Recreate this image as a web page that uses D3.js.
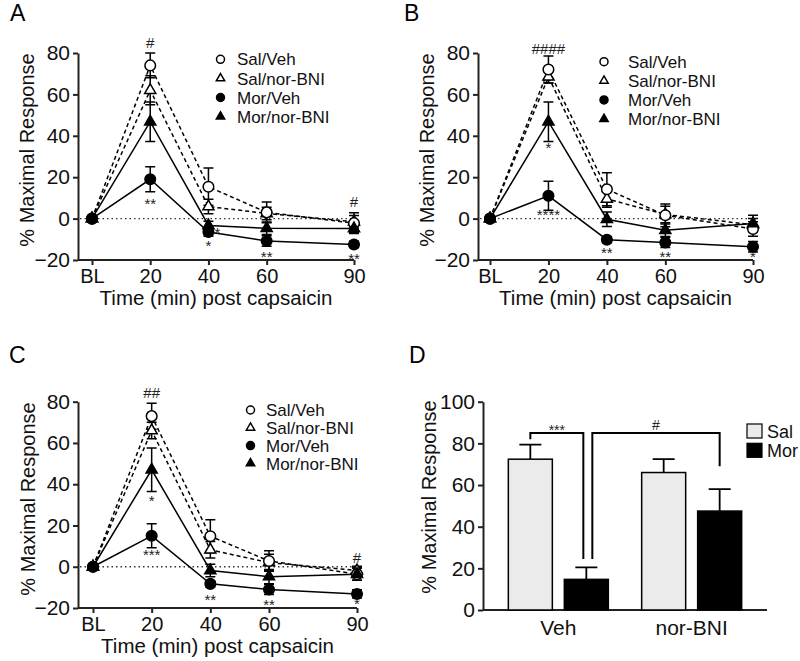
<!DOCTYPE html>
<html>
<head>
<meta charset="utf-8">
<script src="https://cdn.jsdelivr.net/npm/d3@7"></script>
<style>
body { margin: 0; background: #fff; }
svg { font-family: "Liberation Sans", Arial, sans-serif; }
</style>
</head>
<body>
<script>
// ---- data ----
const times = [0, 20, 40, 60, 90]
const timeLabels = ["BL", "20", "40", "60", "90"]
const groups = ["Sal/Veh", "Sal/nor-BNI", "Mor/Veh", "Mor/nor-BNI"]

// panel A
const aSalVeh = [0, 74, 15.4, 3, -2.2]
const aSalVehErr = [0, 6, 9, 5, 5]
const aSalNor = [0, 62, 5.8, 2.5, -1.5]
const aSalNorErr = [0, 7, 3.5, 3, 3]
const aMorVeh = [0, 19, -6.5, -10.8, -12.5]
const aMorVehErr = [0, 6, 2, 2.5, 1.5]
const aMorNor = [0, 46.8, -3.3, -4.7, -4.8]
const aMorNorErr = [0, 9.5, 2, 3, 2]
const aNotes = [[20, 85, "#"], [20, 9, "**"], [40, -4.8, "*", 9], [40, -11.5, "*"],
  [60, -16.4, "**"], [90, 8.1, "#"], [90, -17.4, "**"]]

// panel B
const bSalVeh = [0, 72, 14.2, 1.6, -5]
const bSalVehErr = [0, 6.5, 8, 5.5, 3.5]
const bSalNor = [0, 68.5, 9.5, 2, -3]
const bSalNorErr = [0, 3, 4, 4, 3]
const bMorVeh = [0, 11, -10.2, -11.5, -13.6]
const bMorVehErr = [0, 7, 1.5, 2.5, 2.5]
const bMorNor = [0, 46.8, -0.3, -5.6, -2.4]
const bMorNorErr = [0, 9.5, 3.5, 3, 4]
const bNotes = [[20, 82, "####"], [20, 36, "*"], [20, 3.6, "****"], [40, -14.5, "**"],
  [60, -16.4, "**"], [90, -16.6, "*"]]

// panel C
const cSalVeh = [0, 73, 14.8, 2.8, -3.6]
const cSalVehErr = [0, 6.3, 8, 5, 3]
const cSalNor = [0, 66, 8.2, 2, -1.8]
const cSalNorErr = [0, 4, 4, 4, 2]
const cMorVeh = [0, 15, -8.3, -11, -13.2]
const cMorVehErr = [0, 5.8, 1.5, 2.5, 2]
const cMorNor = [0, 47, -1.8, -4.8, -3.6]
const cMorNorErr = [0, 10.5, 3, 3.5, 3]
const cNotes = [[20, 84.5, "##"], [20, 34, "*"], [20, 7.4, "***"], [40, -14.4, "**"],
  [60, -16.4, "**"], [90, 4.2, "#"], [90, -16.2, "*"]]

// panel D (20 min values)
const dConditions = ["Veh", "nor-BNI"]
const dTreatments = ["Sal", "Mor"]
const dSal = [72.4, 66]
const dSalErr = [7, 6.4]
const dMor = [14.7, 47.5]
const dMorErr = [5.8, 10.5]
// [cond1, treat1, cond2, treat2, leftEnd, rightEnd, top, text, textCenter]
const dBrackets = [["Veh", "Sal", "Veh", "Mor", 82, 24.5, 85, "***", 87.9],
  ["Veh", "Mor", "nor-BNI", "Mor", 24.5, 69, 85, "#", 88.6]]

// ---- drawing ----
var svg = d3.select("body").append("svg").attr("width", 800).attr("height", 661)

var styles = {
  "Sal/Veh": { shape: "circle", fill: "#fff", dash: "4,3" },
  "Sal/nor-BNI": { shape: "triangle", fill: "#fff", dash: "4,3" },
  "Mor/Veh": { shape: "circle", fill: "#000", dash: null },
  "Mor/nor-BNI": { shape: "triangle", fill: "#000", dash: null }
}

var drawMarker = (g, shape, fill, x, y, r) => {
  if (shape == "circle") {
    g.append("circle").attr("cx", x).attr("cy", y).attr("r", r)
      .attr("fill", fill).attr("stroke", "#000").attr("stroke-width", 1.5)
  } else {
    var w = r * 2.1
    g.append("path")
      .attr("d", d3.symbol(d3.symbolTriangle, Math.sqrt(3) / 4 * w * w)())
      .attr("transform", "translate(" + x + "," + y + ")")
      .attr("fill", fill).attr("stroke", "#000").attr("stroke-width", 1.5)
  }
}

var styleAxis = (g, size) => {
  g.selectAll(".domain").attr("stroke", "#222").attr("stroke-width", 2)
  g.selectAll(".tick line").attr("stroke", "#222").attr("stroke-width", 2)
  g.selectAll(".tick text").attr("fill", "#111").style("font-size", size + "px")
}

function drawLinePanel(cfg) {
  var g = svg.append("g")
  var x = d3.scaleLinear().domain([0, 90]).range(cfg.xRange)
  var y = d3.scaleLinear().domain([-20, 80]).range(cfg.yRange)

  g.append("text").attr("x", cfg.label[1]).attr("y", cfg.label[2])
    .style("font-size", "23px").text(cfg.label[0])

  // axes
  var yAxis = g.append("g").attr("transform", "translate(" + cfg.axisX + ",0)")
    .call(d3.axisLeft(y).tickValues([-20, 0, 20, 40, 60, 80]).tickSize(5).tickPadding(3).tickSizeOuter(0))
  styleAxis(yAxis, 21)
  var xAxis = g.append("g").attr("transform", "translate(0," + y(-20) + ")")
    .call(d3.axisBottom(x).tickValues(times).tickFormat((d, i) => timeLabels[i])
      .tickSize(5).tickPadding(4).tickSizeOuter(0))
  xAxis.select(".domain").attr("d", "M" + cfg.axisX + ",0H" + x(90))
  styleAxis(xAxis, 20)

  g.append("text").attr("x", (cfg.axisX + x(90)) / 2).attr("y", y(-20) + 45)
    .attr("text-anchor", "middle").style("font-size", "20.5px").attr("fill", "#111")
    .text("Time (min) post capsaicin")
  g.append("text")
    .attr("transform", "translate(" + cfg.yTitle[0] + "," + cfg.yTitle[1] + ") rotate(-90)")
    .attr("text-anchor", "middle").style("font-size", "20px").attr("fill", "#111")
    .text("% Maximal Response")

  // zero line
  g.append("line").attr("x1", cfg.axisX + 2).attr("x2", x(90) + 3)
    .attr("y1", y(0)).attr("y2", y(0))
    .attr("stroke", "#333").attr("stroke-width", 1.3).attr("stroke-dasharray", "1.5,3")

  var line = d3.line().x((d) => x(d[0])).y((d) => y(d[1]))
  // lines first
  groups.forEach((name, k) => {
    var st = styles[name]
    g.append("path").datum(times.map((t, i) => [t, cfg.means[k][i]]))
      .attr("d", line).attr("fill", "none").attr("stroke", "#000")
      .attr("stroke-width", 1.5).attr("stroke-dasharray", st.dash)
  })
  // error bars
  groups.forEach((name, k) => {
    times.forEach((t, i) => {
      var e = cfg.errs[k][i]
      if (!e) return
      var m = cfg.means[k][i]
      var cx = x(t)
      g.append("path")
        .attr("d", "M" + cx + "," + y(m - e) + "V" + y(m + e)
          + "M" + (cx - 5) + "," + y(m + e) + "H" + (cx + 5)
          + "M" + (cx - 5) + "," + y(m - e) + "H" + (cx + 5))
        .attr("stroke", "#000").attr("stroke-width", 1.5).attr("fill", "none")
    })
  })
  // markers (solid ones on top of open ones)
  ;[1, 0, 3, 2].forEach((k) => {
    var st = styles[groups[k]]
    times.forEach((t, i) => drawMarker(g, st.shape, st.fill, x(t), y(cfg.means[k][i]), 5.3))
  })

  // significance marks
  cfg.notes.forEach((n) => {
    var isStar = n[2].indexOf("*") >= 0
    g.append("text").attr("x", x(n[0]) + (n[3] || 0)).attr("y", y(n[1]))
      .attr("dy", isStar ? "0.6em" : "0.36em")
      .attr("text-anchor", "middle").style("font-size", "15px").attr("fill", "#222")
      .text(n[2])
  })

  // legend
  var lg = cfg.legend
  groups.forEach((name, k) => {
    var st = styles[name]
    var cy = lg.y + k * lg.step
    drawMarker(g, st.shape, st.fill, lg.x, cy, 4)
    g.append("text").attr("x", lg.tx).attr("y", cy).attr("dy", "0.36em")
      .style("font-size", "17px").attr("fill", "#111").text(name)
  })
}

drawLinePanel({
  label: ["A", 10, 21], axisX: 78, xRange: [92, 354], yRange: [260, 53], yTitle: [34, 150],
  means: [aSalVeh, aSalNor, aMorVeh, aMorNor], errs: [aSalVehErr, aSalNorErr, aMorVehErr, aMorNorErr],
  notes: aNotes, legend: { x: 220.5, tx: 237, y: 59.3, step: 19.1 }
})
drawLinePanel({
  label: ["B", 404, 21], axisX: 478, xRange: [490, 753], yRange: [260, 53], yTitle: [434, 150],
  means: [bSalVeh, bSalNor, bMorVeh, bMorNor], errs: [bSalVehErr, bSalNorErr, bMorVehErr, bMorNorErr],
  notes: bNotes, legend: { x: 604, tx: 628, y: 61.7, step: 19.1 }
})
drawLinePanel({
  label: ["C", 9, 363], axisX: 78, xRange: [93, 357], yRange: [608, 401.7], yTitle: [35, 499],
  means: [cSalVeh, cSalNor, cMorVeh, cMorNor], errs: [cSalVehErr, cSalNorErr, cMorVehErr, cMorNorErr],
  notes: cNotes, legend: { x: 250.5, tx: 266, y: 410, step: 17.8 }
})

// ---- panel D ----
;(function () {
  var g = svg.append("g")
  var axisX = 483
  var x0 = d3.scaleBand().domain(dConditions).range([axisX, 767]).paddingInner(0.25).paddingOuter(0.19)
  var x1 = d3.scaleBand().domain(dTreatments).range([0, x0.bandwidth()]).paddingInner(0.214)
  var y = d3.scaleLinear().domain([0, 100]).range([610, 401.7])
  var vals = { Sal: dSal, Mor: dMor }
  var errs = { Sal: dSalErr, Mor: dMorErr }
  var fills = { Sal: "#ebebeb", Mor: "#000" }
  var cx = (c, t) => x0(c) + x1(t) + x1.bandwidth() / 2

  g.append("text").attr("x", 409).attr("y", 363).style("font-size", "23px").text("D")

  var yAxis = g.append("g").attr("transform", "translate(" + axisX + ",0)")
    .call(d3.axisLeft(y).tickValues([0, 20, 40, 60, 80, 100]).tickSize(5).tickPadding(3).tickSizeOuter(0))
  styleAxis(yAxis, 21)
  var xAxis = g.append("g").attr("transform", "translate(0," + y(0) + ")")
    .call(d3.axisBottom(x0).tickSize(0).tickPadding(10).tickSizeOuter(0))
  xAxis.select(".domain").attr("d", "M" + axisX + ",0H767")
  styleAxis(xAxis, 21)

  g.append("text").attr("transform", "translate(436,497) rotate(-90)")
    .attr("text-anchor", "middle").style("font-size", "20px").attr("fill", "#111")
    .text("% Maximal Response")

  dConditions.forEach((c, i) => {
    dTreatments.forEach((t) => {
      var v = vals[t][i], e = errs[t][i], mx = cx(c, t)
      g.append("path")
        .attr("d", "M" + mx + "," + y(v) + "V" + y(v + e) + "M" + (mx - 11) + "," + y(v + e) + "H" + (mx + 11))
        .attr("stroke", "#000").attr("stroke-width", 1.8).attr("fill", "none")
      g.append("rect").attr("x", x0(c) + x1(t)).attr("width", x1.bandwidth())
        .attr("y", y(v)).attr("height", y(0) - y(v))
        .attr("fill", fills[t]).attr("stroke", "#000").attr("stroke-width", 1.5)
    })
  })

  // brackets
  dBrackets.forEach((b, k) => {
    var xa = cx(b[0], b[1]) + (k == 0 ? 0 : 6)
    var xb = cx(b[2], b[3]) + (k == 0 ? -3 : 0)
    g.append("path")
      .attr("d", "M" + xa + "," + y(b[4]) + "V" + y(b[6]) + "H" + xb + "V" + y(b[5]))
      .attr("stroke", "#000").attr("stroke-width", 2).attr("fill", "none")
    var isStar = b[7].indexOf("*") >= 0
    g.append("text").attr("x", (xa + xb) / 2).attr("y", y(b[8]))
      .attr("dy", isStar ? "0.6em" : "0.36em").attr("text-anchor", "middle")
      .style("font-size", "14px").attr("fill", "#222").text(b[7])
  })

  // legend
  dTreatments.forEach((t, k) => {
    g.append("rect").attr("x", 747).attr("y", 424 + k * 19.3).attr("width", 15).attr("height", 14)
      .attr("fill", fills[t]).attr("stroke", "#000").attr("stroke-width", 1.2)
    g.append("text").attr("x", 767).attr("y", 438 + k * 19.3)
      .style("font-size", "18px").attr("fill", "#111").text(t)
  })
})()
</script>
</body>
</html>
